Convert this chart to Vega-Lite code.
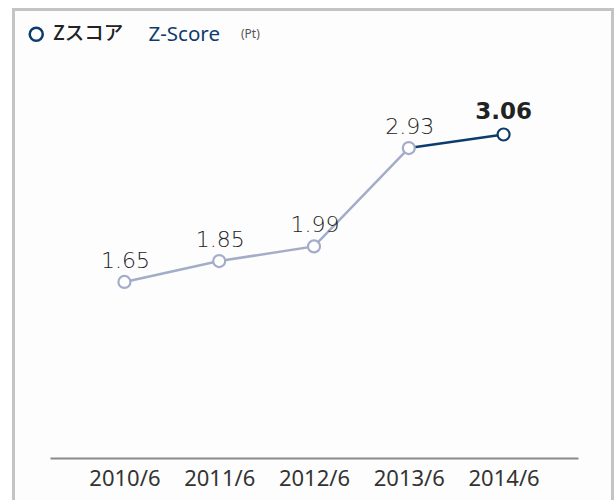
{
  "$schema": "https://vega.github.io/schema/vega-lite/v6.json",
  "autosize": "none",
  "width": 599,
  "height": 496.5,
  "padding": {"left": 13.5, "top": 9.5, "right": 1.5, "bottom": -6},
  "background": "white",
  "config": {
    "view": {"stroke": "#c4c4c4", "strokeWidth": 3, "fill": "#fdfdfd"},
    "font": "Noto Sans"
  },
  "title": {
    "text": "Z-Score",
    "anchor": "start",
    "frame": "group",
    "font": "Noto Sans",
    "fontSize": 20.5,
    "fontWeight": "normal",
    "color": "#0c3c6c",
    "baseline": "alphabetic",
    "offset": 0,
    "dx": 135,
    "dy": 52
  },
  "data": {
    "values": [
      {"year": "2010/6", "z": 1.65},
      {"year": "2011/6", "z": 1.85},
      {"year": "2012/6", "z": 1.99},
      {"year": "2013/6", "z": 2.93},
      {"year": "2014/6", "z": 3.06}
    ]
  },
  "encoding": {
    "x": {
      "field": "year",
      "type": "ordinal",
      "sort": null,
      "scale": {"type": "point", "range": [36.5, 564.5], "padding": 0.785},
      "axis": {
        "title": null,
        "orient": "bottom",
        "offset": -48,
        "domainColor": "#8a8a8a",
        "domainWidth": 2,
        "ticks": false,
        "labelAngle": 0,
        "labelFont": "Noto Sans",
        "labelFontSize": 22,
        "labelColor": "#333333",
        "labelPadding": 10
      }
    },
    "y": {
      "field": "z",
      "type": "quantitative",
      "scale": {"domain": [-0.492, 4.255], "nice": false, "zero": false},
      "axis": {
        "title": "(Pt)",
        "titleAngle": 0,
        "titleX": 227,
        "titleY": 28,
        "titleAlign": "left",
        "titleBaseline": "alphabetic",
        "titleFont": "Noto Sans",
        "titleFontSize": 12,
        "titleFontWeight": "normal",
        "titleColor": "#555555",
        "labels": false,
        "ticks": false,
        "domain": false,
        "grid": false
      }
    }
  },
  "layer": [
    {
      "transform": [{"filter": "datum.year != '2014/6'"}],
      "mark": {"type": "line", "color": "#a3adc8", "strokeWidth": 2.5}
    },
    {
      "transform": [{"filter": "datum.year == '2013/6' || datum.year == '2014/6'"}],
      "mark": {"type": "line", "color": "#0c3c6c", "strokeWidth": 2.5}
    },
    {
      "transform": [{"filter": "datum.year != '2014/6'"}],
      "mark": {"type": "point", "shape": "circle", "filled": false, "color": "#a3adc8", "fill": "white", "size": 144, "strokeWidth": 2.2, "opacity": 1}
    },
    {
      "transform": [{"filter": "datum.year == '2014/6'"}],
      "mark": {"type": "point", "filled": false, "color": "#0c3c6c", "fill": "white", "size": 144, "strokeWidth": 2.2, "opacity": 1},
      "encoding": {
        "shape": {
          "datum": "Zスコア",
          "scale": {"range": ["circle"]},
          "legend": {
            "title": null,
            "orient": "none",
            "legendX": 13,
            "legendY": 15,
            "padding": 0,
            "symbolType": "circle",
            "symbolSize": 170,
            "symbolStrokeWidth": 2.5,
            "labelFont": "Noto Sans CJK JP",
            "labelFontSize": 19.5,
            "labelFontWeight": 500,
            "labelColor": "#222222",
            "labelOffset": 7
          }
        }
      }
    },
    {
      "transform": [{"filter": "datum.year != '2014/6'"}],
      "mark": {"type": "text", "baseline": "alphabetic", "dy": -14, "dx": 1, "fontSize": 22, "fontWeight": 200, "font": "DejaVu Sans", "color": "#222222"},
      "encoding": {"text": {"field": "z", "type": "quantitative", "format": ".2f"}}
    },
    {
      "transform": [{"filter": "datum.year == '2014/6'"}],
      "mark": {"type": "text", "baseline": "alphabetic", "dy": -15, "dx": 0, "fontSize": 23, "fontWeight": "bold", "font": "DejaVu Sans", "color": "#222222"},
      "encoding": {"text": {"field": "z", "type": "quantitative", "format": ".2f"}}
    }
  ]
}
